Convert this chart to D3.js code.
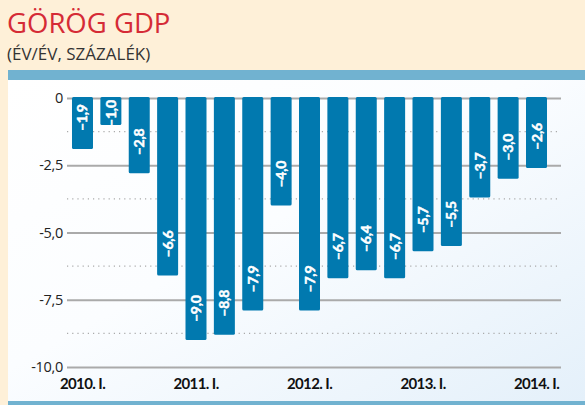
<!DOCTYPE html>
<html>
<head>
<meta charset="utf-8">
<script src="https://cdn.jsdelivr.net/npm/d3@7"></script>
<style>
  body { margin: 0; background: #fef0d8; }
  svg { display: block; }
</style>
</head>
<body>
<svg id="chart" width="585" height="405"></svg>
<script>
// quarterly data, 2010 Q1 .. 2014 Q1
var quarters = ["2010. I.", "2010. II.", "2010. III.", "2010. IV.",
                "2011. I.", "2011. II.", "2011. III.", "2011. IV.",
                "2012. I.", "2012. II.", "2012. III.", "2012. IV.",
                "2013. I.", "2013. II.", "2013. III.", "2013. IV.",
                "2014. I."];
var gdp = [-1.9, -1.0, -2.8, -6.6, -9.0, -8.8, -7.9, -4.0, -7.9, -6.7, -6.4, -6.7, -5.7, -5.5, -3.7, -3.0, -2.6];
var xTickLabels = ["2010. I.", "2011. I.", "2012. I.", "2013. I.", "2014. I."];
var yTicks = [0, -2.5, -5, -7.5, -10];
var yMinorTicks = [-1.25, -3.75, -6.25, -8.75];

var svg = d3.select("#chart");
var width = 585, height = 405;

// background + panel
svg.append("rect").attr("width", width).attr("height", height).attr("fill", "#fef0d8");

var defs = svg.append("defs");
var grad = defs.append("linearGradient").attr("id", "panelGrad")
    .attr("x1", "0").attr("y1", "0").attr("x2", "1").attr("y2", "1");
grad.append("stop").attr("offset", "0").attr("stop-color", "#ffffff");
grad.append("stop").attr("offset", "0.45").attr("stop-color", "#fbfdff");
grad.append("stop").attr("offset", "1").attr("stop-color", "#e4f0fa");

svg.append("rect").attr("x", 8).attr("y", 70).attr("width", width - 8).attr("height", 10).attr("fill", "#71b2d0");
svg.append("rect").attr("x", 8).attr("y", 80).attr("width", width - 8).attr("height", 321).attr("fill", "url(#panelGrad)");
svg.append("rect").attr("x", 8).attr("y", 401).attr("width", width - 8).attr("height", 4).attr("fill", "#71b2d0");

// titles
svg.append("text").attr("x", 7).attr("y", 33)
    .attr("font-family", "'Open Sans', sans-serif").attr("font-size", 27.5)
    .attr("fill", "#d52b36").text("GÖRÖG GDP");
svg.append("text").attr("x", 7).attr("y", 60)
    .attr("font-family", "'Open Sans', sans-serif").attr("font-size", 17)
    .attr("fill", "#333").text("(ÉV/ÉV, SZÁZALÉK)");

// scales
var gridLeft = 67, gridRight = 561;
var y = d3.scaleLinear().domain([0, -10]).range([98, 367]);
var x = d3.scaleBand().domain(quarters).range([67, 552])
    .paddingInner(0.26).paddingOuter(0.176);

// dotted minor lines
svg.append("g").selectAll("line").data(yMinorTicks).enter().append("line")
    .attr("x1", gridLeft).attr("x2", gridRight)
    .attr("y1", function(d) { return y(d); })
    .attr("y2", function(d) { return y(d); })
    .attr("stroke", "#aaa").attr("stroke-width", 1.2)
    .attr("stroke-dasharray", "1.2,4");

// y axis with gridlines
var yAxis = svg.append("g")
    .attr("transform", "translate(" + gridLeft + ",0)")
    .call(d3.axisLeft(y).tickValues(yTicks)
        .tickSize(-(gridRight - gridLeft)).tickPadding(4)
        .tickFormat(function(d) { return d === 0 ? "0" : "-" + d3.format(".1f")(-d).replace(".", ","); }));
yAxis.select(".domain").remove();
yAxis.selectAll(".tick line").attr("stroke", "#aaa").attr("stroke-width", 1.8);
yAxis.selectAll(".tick text")
    .attr("font-family", "'Open Sans', sans-serif").attr("font-size", 14.5)
    .attr("fill", "#222").attr("letter-spacing", "-0.3");

// bars
svg.append("g").selectAll("rect").data(gdp).enter().append("rect")
    .attr("x", function(d, i) { return x(quarters[i]); })
    .attr("y", y(0) - 1)
    .attr("width", x.bandwidth())
    .attr("height", function(d) { return y(d) - y(0) + 1; })
    .attr("rx", 1.5)
    .attr("fill", "#0179af");

// value labels (rotated, near the bar end)
svg.append("g").selectAll("text").data(gdp).enter().append("text")
    .attr("transform", function(d, i) {
        var cx = x(quarters[i]) + x.bandwidth() / 2 + 5;
        var yy = Math.max(y(d) - 18, y(0) + 29);
        return "translate(" + cx + "," + yy + ") rotate(-90)";
    })
    .attr("font-family", "Lato, sans-serif").attr("font-weight", "bold")
    .attr("font-size", 14).attr("fill", "#fff")
    .attr("stroke", "#fff").attr("stroke-width", 0.5)
    .attr("letter-spacing", "-0.2")
    .text(function(d) { return "–" + d3.format(".1f")(-d).replace(".", ","); });

// x axis labels
var xAxis = svg.append("g")
    .attr("transform", "translate(0,378)")
    .call(d3.axisBottom(x).tickValues(xTickLabels).tickSize(0).tickPadding(0));
xAxis.select(".domain").remove();
xAxis.selectAll(".tick text")
    .attr("dy", "0.71em")
    .attr("font-family", "Lato, sans-serif").attr("font-weight", "bold")
    .attr("font-size", 15).attr("fill", "#111")
    .attr("letter-spacing", "-0.6");
</script>
</body>
</html>
